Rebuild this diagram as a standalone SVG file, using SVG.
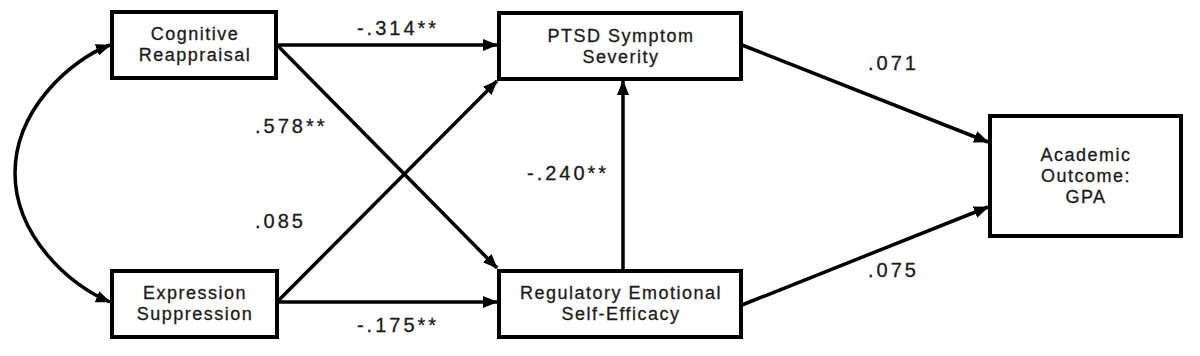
<svg xmlns="http://www.w3.org/2000/svg" width="1200" height="356" viewBox="0 0 1200 356">
<style>
.box{fill:#fff;stroke:#000;stroke-width:4}
.nt{font-family:"Liberation Sans",Arial,sans-serif;font-size:18px;fill:#1a1a1a;stroke:#1a1a1a;stroke-width:0.3px;text-anchor:middle;letter-spacing:1.5px}
.lb{font-family:"Liberation Sans",Arial,sans-serif;font-size:20px;fill:#1a1a1a;stroke:#1a1a1a;stroke-width:0.3px;letter-spacing:3px}
.ed{fill:none;stroke:#000;stroke-width:3.5}
</style>
<defs>
<marker id="ah" markerUnits="userSpaceOnUse" markerWidth="16" markerHeight="12" refX="14" refY="6" orient="auto">
<path d="M0,0 L15,6 L0,12 z" fill="#000"/>
</marker>
<marker id="ahs" markerUnits="userSpaceOnUse" markerWidth="16" markerHeight="12" refX="14" refY="6" orient="auto-start-reverse">
<path d="M0,0 L15,6 L0,12 z" fill="#000"/>
</marker>
</defs>
<g id="connectors">
<path class="ed" d="M110 45 C70 60,15 110,15 173 C15 236,70 286,110 302" marker-start="url(#ahs)" marker-end="url(#ah)"/>
<line class="ed" x1="277" y1="45" x2="497" y2="45" marker-end="url(#ah)"/>
<line class="ed" x1="277" y1="45" x2="497" y2="268" marker-end="url(#ah)"/>
<line class="ed" x1="277" y1="302" x2="497" y2="81" marker-end="url(#ah)"/>
<line class="ed" x1="277" y1="302" x2="497" y2="302" marker-end="url(#ah)"/>
<line class="ed" x1="623" y1="269" x2="623" y2="81" marker-end="url(#ah)"/>
<line class="ed" x1="742" y1="45" x2="988" y2="142" marker-end="url(#ah)"/>
<line class="ed" x1="742" y1="305" x2="988" y2="207" marker-end="url(#ah)"/>
</g>
<g id="labels">
<text class="lb" x="398" y="35" text-anchor="middle">-.314**</text>
<text class="lb" x="255" y="133">.578**</text>
<text class="lb" x="255" y="228">.085</text>
<text class="lb" x="527" y="180">-.240**</text>
<text class="lb" x="398" y="332" text-anchor="middle">-.175**</text>
<text class="lb" x="868" y="70">.071</text>
<text class="lb" x="868" y="277">.075</text>
</g>
<g id="cognitive-reappraisal">
<rect class="box" x="112" y="12" width="164" height="66"/>
<text class="nt" x="195" y="40">Cognitive</text>
<text class="nt" x="195" y="61">Reappraisal</text>
</g>
<g id="expression-suppression">
<rect class="box" x="112" y="271" width="165" height="66"/>
<text class="nt" x="195" y="299">Expression</text>
<text class="nt" x="195" y="320">Suppression</text>
</g>
<g id="ptsd">
<rect class="box" x="499" y="13" width="242" height="66"/>
<text class="nt" x="621" y="42">PTSD Symptom</text>
<text class="nt" x="621" y="63">Severity</text>
</g>
<g id="res">
<rect class="box" x="499" y="271" width="242" height="66"/>
<text class="nt" x="621" y="299">Regulatory Emotional</text>
<text class="nt" x="621" y="320">Self-Efficacy</text>
</g>
<g id="academic">
<rect class="box" x="990" y="116" width="191" height="120"/>
<text class="nt" x="1086" y="161">Academic</text>
<text class="nt" x="1086" y="182">Outcome:</text>
<text class="nt" x="1086" y="203">GPA</text>
</g>
</svg>
